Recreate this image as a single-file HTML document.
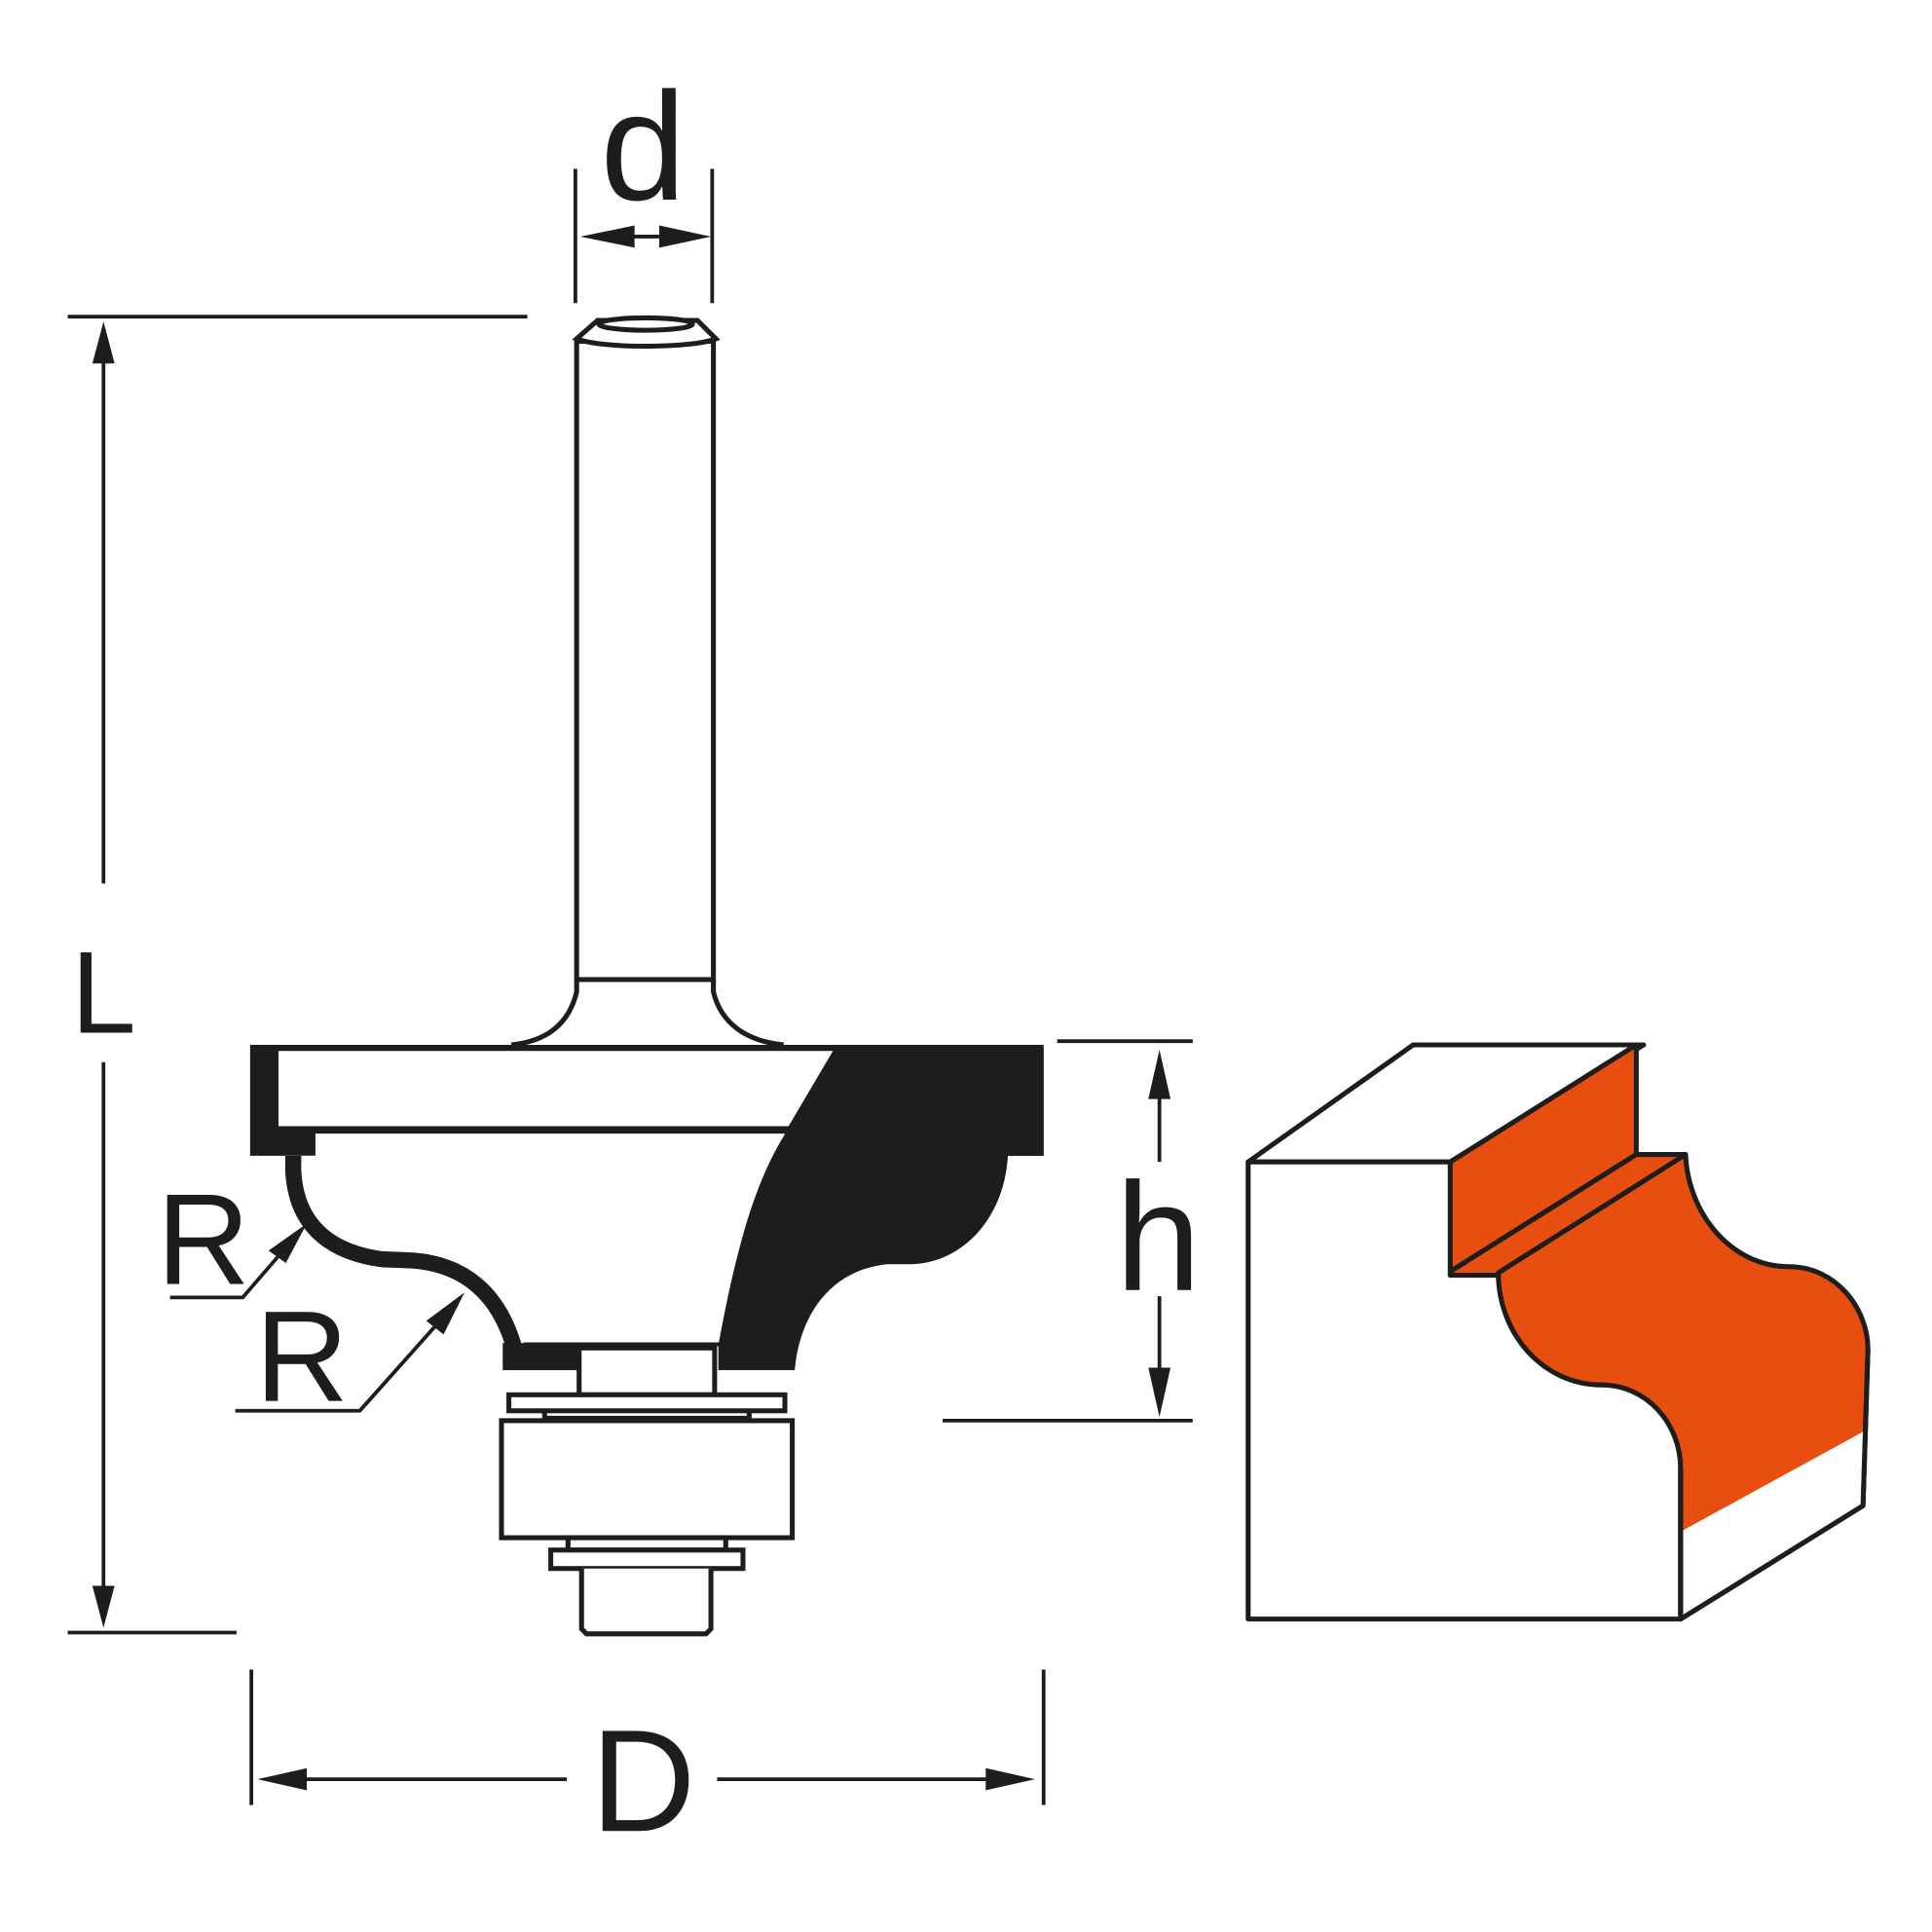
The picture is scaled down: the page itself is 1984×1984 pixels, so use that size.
<!DOCTYPE html>
<html><head><meta charset="utf-8"><style>
html,body{margin:0;padding:0;background:#fff;}
svg{display:block;}
text{font-family:"Liberation Sans",sans-serif;fill:#1d1d1b;}
</style></head><body>
<svg width="1984" height="1984" viewBox="0 0 1568 1568" xmlns="http://www.w3.org/2000/svg">
<g stroke="#1d1d1b" stroke-width="3" fill="none">
<line x1="467" y1="137" x2="467" y2="246"/>
<line x1="578" y1="137" x2="578" y2="246"/>
<line x1="512" y1="192" x2="538" y2="192"/>
<line x1="55" y1="257" x2="428" y2="257"/>
<line x1="55" y1="1325" x2="192" y2="1325"/>
<line x1="84" y1="290" x2="84" y2="717"/>
<line x1="84" y1="862" x2="84" y2="1290"/>
<line x1="858" y1="845" x2="968" y2="845"/>
<line x1="765" y1="1153" x2="968" y2="1153"/>
<line x1="941" y1="888" x2="941" y2="943"/>
<line x1="941" y1="1052" x2="941" y2="1115"/>
<line x1="204" y1="1355" x2="204" y2="1465"/>
<line x1="847" y1="1355" x2="847" y2="1465"/>
<line x1="245" y1="1444" x2="460" y2="1444"/>
<line x1="582" y1="1444" x2="805" y2="1444"/>
<polyline points="138,1053 197,1053 235,1009"/>
<polyline points="191,1145 292,1145 358,1071"/>
</g>
<g fill="#1d1d1b">
<polygon points="471,192 515,183 515,201"/>
<polygon points="577,192 535,183 535,201"/>
<polygon points="84,261 75,295 93,295"/>
<polygon points="84,1321 75,1287 93,1287"/>
<polygon points="941,852 932,892 950,892"/>
<polygon points="941,1150 932,1110 950,1110"/>
<polygon points="209,1444 249,1435 249,1453"/>
<polygon points="840,1444 800,1435 800,1453"/>
<polygon points="249,993 218,1015 232,1025"/>
<polygon points="377,1049 346,1072 360,1083"/>
</g>
<g stroke="#1d1d1b" stroke-width="4" fill="#fff">
<rect x="468" y="277" width="111" height="518"/>
<path d="M468 275 L485 260 L566 260 L581 275 C560 283 488 283 468 275 Z"/>
<ellipse cx="524" cy="263" rx="38" ry="5"/>
<path d="M468 795 L468 805 C462 830 445 845 415 848" fill="none"/>
<path d="M579 795 L579 805 C585 830 605 845 636 848" fill="none"/>
</g>
<rect x="203" y="848" width="644" height="90" fill="#1d1d1b"/>
<polygon points="226,853 676,853 640,914 226,914" fill="#fff"/>
<polygon points="256,920 637,920 630,940 256,940" fill="#fff"/>
<path d="M232 938 L232 950 C234 995 262 1018 310 1022 L335 1023 C375 1026 403 1050 418 1092 L583 1092 C600 1000 618 950 635 938 Z" fill="#fff"/>
<path d="M678 851 L847 851 L847 938 L818 938 C815 990 780 1025 740 1026 L720 1026 C680 1030 650 1060 645 1112 L583 1112 L583 1092 C598 1010 614 955 640 916 Z" fill="#1d1d1b"/>
<path d="M238 938 L238 950 C240 992 265 1016 310 1022 L335 1023 C375 1026 405 1048 418 1096" stroke="#1d1d1b" stroke-width="13" fill="none"/>
<rect x="408" y="1090" width="64" height="22" fill="#1d1d1b"/>
<line x1="425" y1="1091" x2="585" y2="1091" stroke="#1d1d1b" stroke-width="3"/>
<g stroke="#1d1d1b" stroke-width="4" fill="#fff">
<rect x="470" y="1094" width="110" height="38"/>
<rect x="413" y="1132" width="224" height="13"/>
<line x1="442" y1="1145" x2="442" y2="1153"/>
<line x1="608" y1="1145" x2="608" y2="1153"/>
<line x1="442" y1="1151" x2="608" y2="1151"/>
<rect x="407" y="1153" width="236" height="95"/>
<rect x="461" y="1248" width="128" height="10"/>
<rect x="447" y="1258" width="156" height="15"/>
<path d="M472 1273 L472 1322 L476 1326 L573 1326 L577 1322 L577 1273"/>
</g>
<text x="522" y="162" font-size="125" text-anchor="middle">d</text>
<text x="84" y="838" font-size="95" text-anchor="middle">L</text>
<text x="165" y="1042" font-size="105" text-anchor="middle">R</text>
<text x="245" y="1137" font-size="105" text-anchor="middle">R</text>
<text x="940" y="1047" font-size="125" text-anchor="middle">h</text>
<text x="522" y="1486" font-size="118" text-anchor="middle">D</text>
<g stroke="#1d1d1b" stroke-width="4" stroke-linejoin="round">
<polygon points="1013,943 1147,848 1334,848 1177,943" fill="#fff"/>
<rect x="1013" y="943" width="351" height="371" fill="#fff"/>
<polygon points="1177,943 1328,848 1328,937 1177,1032" fill="#e84e0f"/>
<polygon points="1177,1032 1328,937 1368,937 1216,1035 1177,1035" fill="#e84e0f"/>
<path d="M1216 1033 L1368 937 C1370 985 1405 1028 1452 1028 C1490 1028 1516 1062 1516 1095 L1512 1222 L1364 1314 L1364 1192 C1364 1155 1336 1124 1300 1124 C1252 1124 1216 1082 1216 1033 Z" fill="#e84e0f"/>
<polygon points="1366,1242 1512,1162 1512,1222 1366,1312" fill="#fff" stroke="none"/>
<path d="M1516 1095 L1512 1222 L1364 1314 L1364 1192" fill="none"/>
</g>
</svg>
</body></html>
